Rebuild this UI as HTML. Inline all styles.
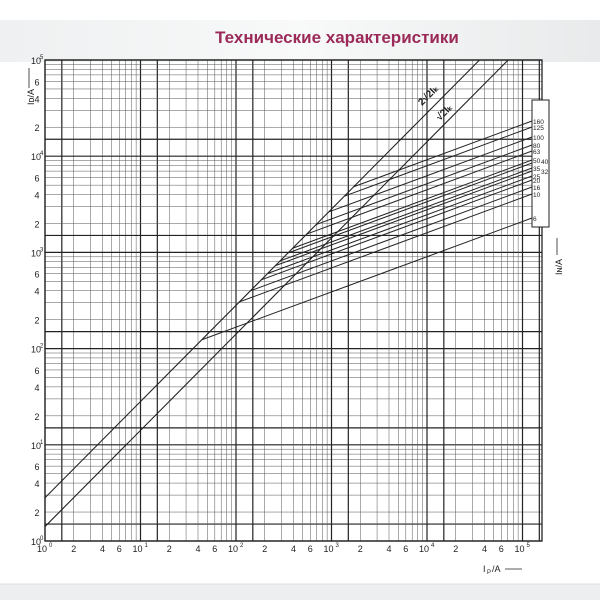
<!DOCTYPE html>
<html><head><meta charset="utf-8"><style>
body{margin:0;width:600px;height:600px;background:#fff;overflow:hidden;font-family:"Liberation Sans",sans-serif}
</style></head><body>
<svg id="s" width="600" height="600" xmlns="http://www.w3.org/2000/svg">
<defs><linearGradient id="g" x1="0" x2="1"><stop offset="0" stop-color="#eef0f1"/><stop offset="0.5" stop-color="#f8f9f9"/><stop offset="1" stop-color="#e8eaeb"/></linearGradient></defs>
<rect x="0" y="20" width="600" height="42" fill="url(#g)"/>
<rect x="0" y="584" width="600" height="16" fill="#eceeef"/>
<line x1="0" y1="584" x2="600" y2="584" stroke="#dcdfe0"/>
<text x="337" y="43" text-anchor="middle" font-size="17" font-weight="bold" fill="#9b2a58" font-family="Liberation Sans, sans-serif">Технические характеристики</text>
<g id="grid"></g>
</svg>
<script>
var s=document.getElementById('grid'),NS='http://www.w3.org/2000/svg';
var X0=45,DX=95.5,Y0=541,DY=96.2,R=542,T=60;
function px(l){return X0+l*DX}function py(l){return Y0-l*DY}
function el(t,a,txt){var e=document.createElementNS(NS,t);for(var k in a)e.setAttribute(k,a[k]);if(txt!==undefined)e.textContent=txt;s.appendChild(e);return e}
function ln(x1,y1,x2,y2,w,c){el('line',{x1:x1,y1:y1,x2:x2,y2:y2,stroke:c||'#222','stroke-width':w})}
var m=[1,1.5,2,3,4,5,6,7,8,9];
for(var d=0;d<6;d++)for(var i=0;i<m.length;i++){var l=d+Math.log10(m[i]);var x=px(l);if(x<=R+0.5){ln(x,T,x,Y0,(i<2)?1.2:0.5,(i<2)?'#222':'#555')}var y=py(l);if(y>=T-0.5&&d<5||(d==5&&i==0)){ln(X0,y,R,y,(i<2)?1.2:0.5,(i<2)?'#222':'#555')}}
el('rect',{x:X0,y:T,width:R-X0,height:Y0-T,fill:'none',stroke:'#222','stroke-width':1.3});
function diag(off){var lx1=5-off;ln(px(0),py(off),px(lx1),py(5),1.1)}
diag(0.45);diag(0.15);
var s0=0.366,lxe=(532-X0)/DX;
var ends=[[160,121],[125,127],[100,137],[80,145],[63,151],[50,160],[40,163],[35,168],[32,171],[25,176],[20,180],[16,187],[10,194],[6,218]];
ends.forEach(function(e){var lye=(Y0-e[1])/DY;var lk=(lye-s0*lxe-0.45)/(1-s0);ln(px(lk),py(lk+0.45),532,e[1],1)});
el('rect',{x:532,y:100,width:17,height:127,fill:'#fff',stroke:'#222','stroke-width':1});
ends.forEach(function(e){var dx=(e[0]==40||e[0]==32)?541:533;el('text',{x:dx,y:e[1]+(e[0]==40?1:3),'font-size':6.5,fill:'#222'},e[0])});
var tl=[[1,''],[2,'2'],[4,'4'],[6,'6']];
for(var d=0;d<=5;d++){tl.forEach(function(t){if(d==5&&t[0]>1)return;var l=d+Math.log10(t[0]);
 var lab=t[0]==1?'10':t[1];
 var y=py(l);el('text',{x:t[0]==1?31:37,y:y+4,'font-size':9,fill:'#222','text-anchor':t[0]==1?'start':'middle'},lab);
 if(t[0]==1)el('text',{x:40,y:y-1,'font-size':6,fill:'#222'},d);
 var x=px(l);el('text',{x:x-(t[0]==1?3:0),y:552,'font-size':9,fill:'#222','text-anchor':'middle'},lab);
 if(t[0]==1)el('text',{x:x+4,y:547,'font-size':6,fill:'#222'},d);});}
el('text',{x:483,y:572,'font-size':9,fill:'#222'},'I');el('text',{x:487,y:574,'font-size':6,fill:'#222'},'P');
el('text',{x:492,y:572,'font-size':9,fill:'#222'},'/A');ln(505,569,522,569,0.8);
el('text',{x:0,y:0,'font-size':9,fill:'#222',transform:'translate(34,105) rotate(-90)'},'I\u1D05/A');
ln(29,88,29,68,0.8);
el('text',{x:0,y:0,'font-size':9,fill:'#222',transform:'translate(562,275) rotate(-90)'},'I\u0274/A');
ln(557,255,557,238,0.8);
el('text',{x:0,y:0,'font-size':10,'font-weight':'bold',fill:'#222',transform:'translate(422,106) rotate(-45)'},'2\u221A2I\u2096');
el('text',{x:0,y:0,'font-size':10,'font-weight':'bold',fill:'#222',transform:'translate(440,121) rotate(-45)'},'\u221A2I\u2096');
</script>
</body></html>
